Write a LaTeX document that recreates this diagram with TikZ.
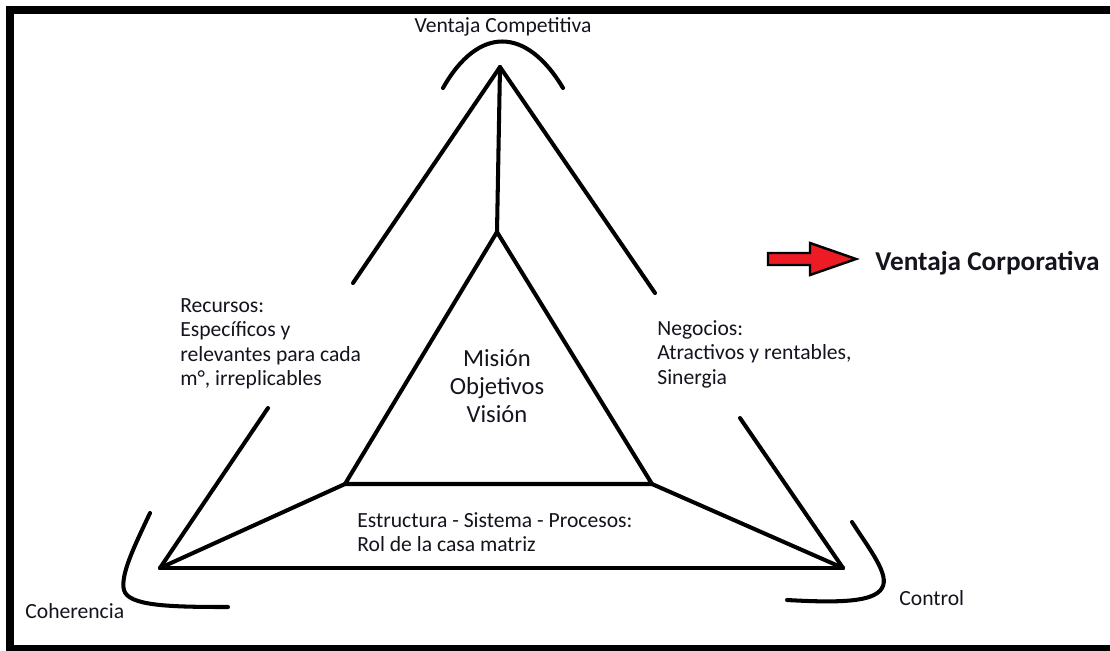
\documentclass[tikz,border=0pt]{standalone}
\usepackage{fontspec}
\setmainfont{Carlito}
\definecolor{arrowred}{RGB}{237,28,36}
\definecolor{txt}{RGB}{20,20,30}
\begin{document}
\begin{tikzpicture}[x=0.02cm,y=-0.02cm,
  line/.style={line width=2.3pt, line cap=round, line join=round},
  frame/.style={line width=4.5pt},
  lbl/.style={inner sep=0pt, text=txt, font=\fontsize{12.3}{13.9}\selectfont, align=left},
  big/.style={inner sep=0pt, text=txt, font=\fontsize{14}{15.9}\selectfont, align=center},
  corp/.style={inner sep=0pt, text=txt, font=\fontsize{15.5}{17}\selectfont\bfseries}]
\useasboundingbox (0,0) rectangle (1110,650);
\fill[white] (0,0) rectangle (1110,650);
% frame
\draw[frame] (1115,10) -- (10,10) -- (10,655);
\draw[line width=3.4pt] (6,648) -- (1115,648);
% points
\coordinate (apex) at (500,67);
\coordinate (iapex) at (497,232);
\coordinate (ibl) at (345,484);
\coordinate (ibr) at (652,484);
\coordinate (obl) at (160,568);
\coordinate (obr) at (843,568);
\coordinate (lu) at (353,283);
\coordinate (ru) at (655,293);
\coordinate (ll) at (268,408);
\coordinate (rl) at (740,418);
% triangle
\draw[line] (apex) -- (iapex);
\draw[line] (apex) -- (lu);
\draw[line] (apex) -- (ru);
\draw[line] (iapex) -- (ibl) -- (ibr) -- cycle;
\draw[line] (obl) -- (ibl);
\draw[line] (obr) -- (ibr);
\draw[line] (obl) -- (obr);
\draw[line] (obl) -- (ll);
\draw[line] (obr) -- (rl);
% curves
\coordinate (ta) at (443,88);
\coordinate (tb) at (563,88);
\draw[line] (ta) .. controls (478,26) and (526,26) .. (tb);
\coordinate (la) at (150,513);
\coordinate (lb) at (228,607);
\draw[line] (la) .. controls (135,545) and (120,575) .. (124,590) .. controls (128,606) and (170,607) .. (lb);
\coordinate (ra) at (852,522);
\coordinate (rb) at (787,600);
\draw[line] (ra) .. controls (870,550) and (890,575) .. (882,588) .. controls (874,602) and (840,603) .. (rb);
% arrow
\draw[fill=arrowred, line width=1.4pt, line join=miter] (768,253) -- (810,253) -- (810,243) -- (856,259) -- (810,275) -- (810,265) -- (768,265) -- cycle;
% labels
\node[lbl, anchor=center] (vcomp) at (503,27) {Ventaja Competitiva};
\node[corp, anchor=west] (vcorp) at (875,263) {Ventaja Corporativa};
\node[lbl, anchor=west] (rec) at (180,344) {Recursos:\\Específicos y\\relevantes para cada\\m°, irreplicables};
\node[lbl, anchor=west] (neg) at (657,354) {Negocios:\\Atractivos y rentables,\\Sinergia};
\node[big, anchor=center] (mis) at (497,386) {Misión\\Objetivos\\Visión};
\node[lbl, anchor=west] (est) at (357,532) {Estructura - Sistema - Procesos:\\Rol de la casa matriz};
\node[lbl, anchor=west] (coh) at (25,611) {Coherencia};
\node[lbl, anchor=west] (con) at (899,598) {Control};
\end{tikzpicture}
\end{document}
